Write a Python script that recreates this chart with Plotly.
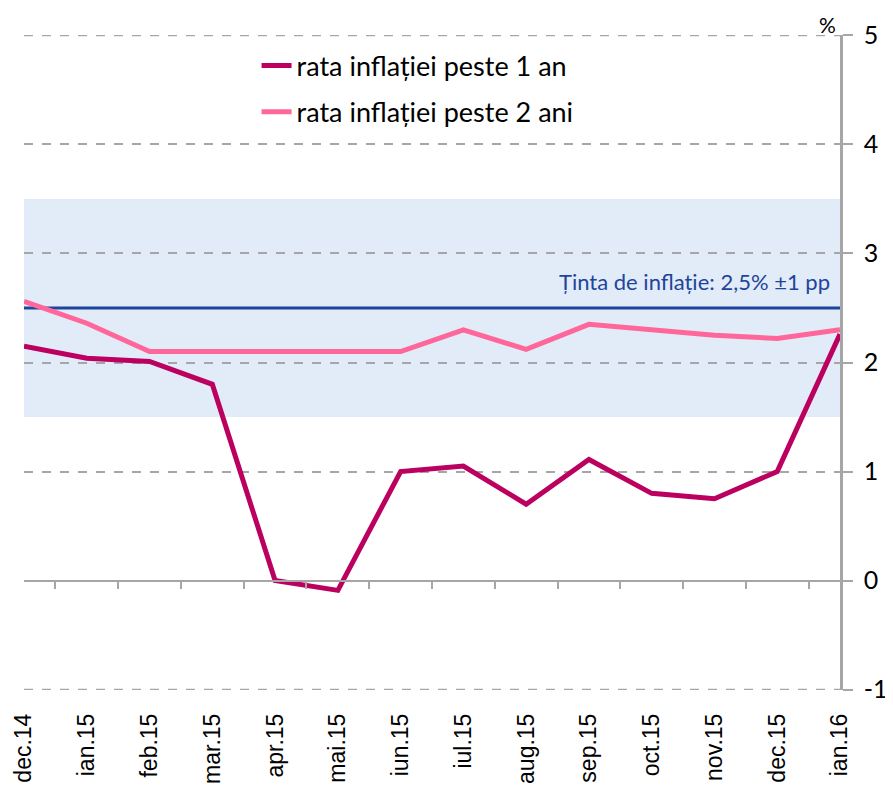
import plotly.graph_objects as go

months = ["dec.14", "ian.15", "feb.15", "mar.15", "apr.15", "mai.15", "iun.15",
          "iul.15", "aug.15", "sep.15", "oct.15", "nov.15", "dec.15", "ian.16"]
rata_1an = [2.15, 2.04, 2.01, 1.80, 0.00, -0.09, 1.00, 1.05, 0.70, 1.11, 0.80, 0.75, 1.00, 2.26]
rata_2ani = [2.56, 2.36, 2.10, 2.10, 2.10, 2.10, 2.10, 2.30, 2.12, 2.35, 2.30, 2.25, 2.22, 2.30]
tinta = 2.5
band_low, band_high = 1.5, 3.5
y_ticks = [-1, 0, 1, 2, 3, 4, 5]
y_tick_text = ["-1", "0", "1", "2", "3", "4", "5"]

fig = go.Figure()

# target band
fig.add_shape(type="rect", xref="x", yref="y", x0=0, x1=len(months) - 1,
              y0=band_low, y1=band_high, fillcolor="#E1ECF8", line_width=0, layer="below")

# edge gridlines (plotly hides gridlines on the plot boundary)
for yv in (y_ticks[0], y_ticks[-1]):
    fig.add_shape(type="line", xref="paper", yref="y", x0=0, x1=1, y0=yv, y1=yv,
                  line=dict(color="#A6A6A6", width=1.5, dash="dash"), layer="below")

# target line
fig.add_trace(go.Scatter(x=months, y=[tinta] * len(months), mode="lines",
                         line=dict(color="#1F449C", width=3), showlegend=False,
                         hoverinfo="skip"))

fig.add_trace(go.Scatter(x=months, y=rata_1an, mode="lines", name="rata inflației peste 1 an",
                         line=dict(color="#BB0060", width=5), legendgroup="a"))
fig.add_trace(go.Scatter(x=months, y=rata_2ani, mode="lines", name="rata inflației peste 2 ani",
                         line=dict(color="#FF6699", width=5), legendgroup="b"))

# dummy trace on the zero-crossing axis
fig.add_trace(go.Scatter(x=months, y=[0] * len(months), xaxis="x2", mode="lines",
                         line=dict(width=0), showlegend=False, hoverinfo="skip"))

fig.update_layout(
    width=885, height=785,
    margin=dict(l=16, r=53, t=27, b=103, autoexpand=False),
    plot_bgcolor="white", paper_bgcolor="white",
    font=dict(family="Lato", color="black"),
    showlegend=True,
    legend=dict(x=0.285, y=0.99, xanchor="left", yanchor="top",
                font=dict(size=27, family="Lato"), bgcolor="rgba(0,0,0,0)",
                traceorder="grouped", tracegroupgap=8),
    xaxis=dict(type="category", range=[0, len(months) - 1], showgrid=False,
               showline=False, ticks="", tickangle=-90, automargin=False,
               tickfont=dict(size=23, family="Liberation Sans"),
               ticklabelstandoff=18, zeroline=False),
    xaxis2=dict(type="category", overlaying="x", matches="x", anchor="free",
                position=1 / 6, side="bottom", showticklabels=False,
                showline=True, linecolor="#A6A6A6", linewidth=2, automargin=False,
                ticks="outside", tickson="boundaries", ticklen=7,
                tickcolor="#A6A6A6", tickwidth=2, showgrid=False),
    yaxis=dict(range=[-1.004, 5.004], side="right", tickvals=y_ticks, ticktext=y_tick_text,
               showgrid=True, gridcolor="#A6A6A6", griddash="dash", gridwidth=1.5,
               zeroline=False, showline=True, linecolor="#A6A6A6", linewidth=2.5,
               ticks="outside", ticklen=10, tickcolor="#A6A6A6", tickwidth=2,
               automargin=False,
               tickfont=dict(size=25, family="Lato"), ticklabelstandoff=6),
    annotations=[
        dict(text="Ținta de inflație: 2,5% ±1 pp", x=0.99, y=tinta, xref="paper", yref="y",
             xanchor="right", yanchor="bottom", yshift=11, showarrow=False,
             font=dict(size=22, color="#1F449C", family="Lato")),
        dict(text="%", x=0.985, y=1.0, xref="paper", yref="paper", xanchor="center",
             yanchor="bottom", yshift=-4, showarrow=False, font=dict(size=21, family="Lato")),
    ],
)

fig.write_html("out.html")
